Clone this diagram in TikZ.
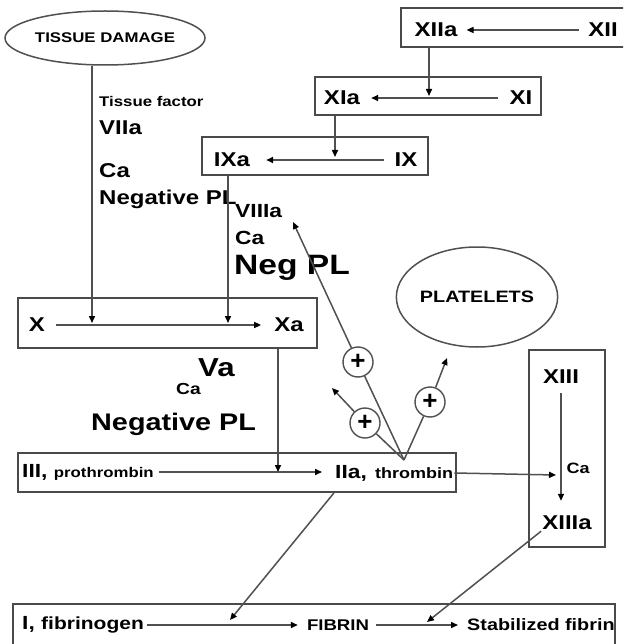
\documentclass[tikz,border=0pt]{standalone}
\usepackage{fontspec}
\setmainfont{Liberation Sans}
\usepackage{graphicx}
\usetikzlibrary{arrows.meta,shapes.geometric}
\newcommand{\sx}[1]{\scalebox{1.2}[1]{#1}}
\newcommand{\fsz}[1]{\fontsize{#1}{#1}\selectfont}
\definecolor{boxgray}{HTML}{4A4A4A}
\definecolor{linegray}{HTML}{505050}
\tikzset{
  box/.style={draw=boxgray, line width=1.7pt, rectangle, inner sep=0pt},
  lbl/.style={inner sep=1pt, text=black, font=\bfseries},
  conn/.style={draw=linegray, line width=1.5pt},
  arr/.style={conn, -{Triangle[length=7pt,width=6pt,color=black]}},
  plusc/.style={circle, draw=linegray, line width=1.4pt, fill=white, minimum size=30pt, inner sep=0pt, font=\fsz{26}\bfseries},
  oval/.style={ellipse, draw=linegray, line width=1.5pt, inner sep=0pt}
}
\begin{document}
\begin{tikzpicture}[x=1pt,y=-1pt]
\useasboundingbox (0,0) rectangle (623,644);
\fill[white] (0,0) rectangle (623,644);
\clip (0,0) rectangle (623,644);

% boxes
\node[box, minimum width=239pt, minimum height=39pt] (bXII) at (520.5,27.5) {};
\node[box, minimum width=226pt, minimum height=38pt] (bXI) at (428,96) {};
\node[box, minimum width=226pt, minimum height=38pt] (bIX) at (315,156) {};
\node[box, minimum width=299pt, minimum height=50pt] (bX) at (167.5,323) {};
\node[box, minimum width=438pt, minimum height=39pt] (bII) at (237,472.5) {};
\node[box, minimum width=76pt, minimum height=197pt] (bXIII) at (567,448.5) {};
\node[box, minimum width=602pt, minimum height=60pt] (bI) at (314,634) {};

% ellipses
\node[oval, minimum width=200pt, minimum height=54pt, font=\fsz{14}\bfseries] (td) at (105,38) {\sx{TISSUE DAMAGE}};
\node[oval, minimum width=150pt, minimum height=100pt, font=\fsz{16.5}\bfseries] (pl) at (477,297) {\sx{PLATELETS}};

% box labels
\node[lbl, font=\fsz{20}\bfseries] (XIIa) at (436,30) {\sx{XIIa}};
\node[lbl, font=\fsz{20}\bfseries] (XII) at (603,30) {\sx{XII}};
\node[lbl, font=\fsz{20}\bfseries] (XIa) at (342,98) {\sx{XIa}};
\node[lbl, font=\fsz{20}\bfseries] (XI) at (521,98) {\sx{XI}};
\node[lbl, font=\fsz{20}\bfseries] (IXa) at (232,160) {\sx{IXa}};
\node[lbl, font=\fsz{20}\bfseries] (IX) at (406,160) {\sx{IX}};
\node[lbl, font=\fsz{20}\bfseries] (X) at (37,325) {\sx{X}};
\node[lbl, font=\fsz{20}\bfseries] (Xa) at (289,325) {\sx{Xa}};
\node[lbl, anchor=west] (III) at (21,472) {\sx{\fsz{19}III, \fsz{14}prothrombin}};
\node[lbl, anchor=west, font=\fsz{19}\bfseries] (IIa) at (334,473) {\sx{IIa,}};
\node[lbl, anchor=west, font=\fsz{15}\bfseries] (thr) at (374,473) {\sx{thrombin}};
\node[lbl, font=\fsz{20}\bfseries] (XIII) at (561,377) {\sx{XIII}};
\node[lbl, font=\fsz{15}\bfseries] (ca3) at (578,468) {\sx{Ca}};
\node[lbl, font=\fsz{20}\bfseries] (XIIIa) at (567,523) {\sx{XIIIa}};
\node[lbl, anchor=west] (I) at (21,625) {\sx{\fsz{19}I, \fsz{17.5}fibrinogen}};
\node[lbl, font=\fsz{15.5}\bfseries] (fib) at (338,625) {\sx{FIBRIN}};
\node[lbl, anchor=west, font=\fsz{16.5}\bfseries] (sfib) at (466,625) {\sx{Stabilized fibrin}};

% cofactor labels
\node[lbl, anchor=west, font=\fsz{14}\bfseries] (tf) at (98,101) {\sx{Tissue factor}};
\node[lbl, anchor=west, font=\fsz{20}\bfseries] (VIIa) at (98,128) {\sx{VIIa}};
\node[lbl, anchor=west, font=\fsz{20}\bfseries] (ca1) at (98,171) {\sx{Ca}};
\node[lbl, anchor=west, font=\fsz{20}\bfseries] (npl1) at (98,199) {\sx{Negative PL}};
\node[lbl, anchor=west, font=\fsz{19}\bfseries] (VIIIa) at (234,211) {\sx{VIIIa}};
\node[lbl, anchor=west, font=\fsz{19}\bfseries] (ca2) at (234,238) {\sx{Ca}};
\node[lbl, anchor=west, font=\fsz{28}\bfseries] (npl2) at (233,268) {\sx{Neg PL}};
\node[lbl, anchor=west, font=\fsz{26}\bfseries] (Va) at (197,368) {\sx{Va}};
\node[lbl, anchor=west, font=\fsz{16}\bfseries] (ca4) at (175,389) {\sx{Ca}};
\node[lbl, anchor=west, font=\fsz{24}\bfseries] (npl3) at (90,424) {\sx{Negative PL}};

% junction coordinates
\coordinate (m1) at (429,96);
\coordinate (m2) at (335,157);
\coordinate (m3) at (92,323);
\coordinate (m4) at (228,323);
\coordinate (m5) at (278,472);
\coordinate (m6) at (556,475);
\coordinate (m7) at (230,620);
\coordinate (m8) at (427,622);
\coordinate (fb) at (404,460);
\coordinate (e1) at (293,222);
\coordinate (e2) at (332,388);
\coordinate (e3) at (447,358);

% cascade
\draw[arr, shorten <=8pt, shorten >=8pt] (XII.west) -- (XIIa.east);
\draw[arr] (bXII.south -| m1) -- (m1);
\draw[arr, shorten <=10pt, shorten >=10pt] (XI.west) -- (XIa.east);
\draw[arr] (bXI.south -| m2) -- (m2);
\draw[arr, shorten <=9pt, shorten >=15pt] (IX.west) -- (IXa.east);
\draw[arr] (bIX.south -| m4) -- (m4);
\draw[arr] (td.south -| m3) -- (m3);
\draw[arr, shorten <=10pt, shorten >=12pt] (X.east) -- (X.east -| Xa.west);
\draw[arr] (bX.south -| m5) -- (m5);
\draw[arr, shorten <=4pt, shorten >=12pt] (III.east) -- (III.east -| IIa.west);
\draw[arr] (thr.east) -- (m6);
\draw[arr, shorten <=8pt, shorten >=14pt] (XIII.south) -- (XIII.south |- XIIIa.north);
\draw[arr] (bII.south -| IIa.west) -- (m7);
\draw[arr] (XIIIa.south west) -- (m8);
\draw[arr, shorten <=2pt, shorten >=8pt] (I.east) -- (I.east -| fib.west);
\draw[arr, shorten <=6pt, shorten >=8pt] (fib.east) -- (fib.east -| sfib.west);

% thrombin feedback
\node[plusc] (p1) at (358,362) {+};
\node[plusc] (p2) at (365,423) {+};
\node[plusc] (p3) at (430,402) {+};
\draw[conn] (fb) -- (p1);
\draw[arr] (p1) -- (e1);
\draw[conn] (fb) -- (p2);
\draw[arr] (p2) -- (e2);
\draw[conn] (fb) -- (p3);
\draw[arr] (p3) -- (e3);
\end{tikzpicture}
\end{document}
